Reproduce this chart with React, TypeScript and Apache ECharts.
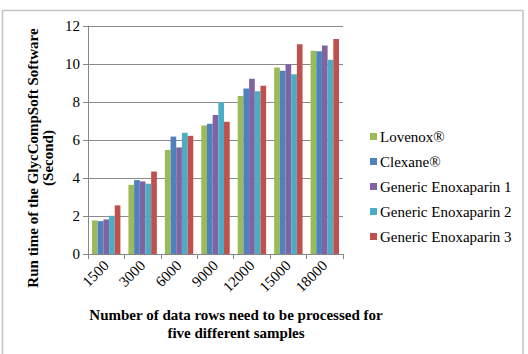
import React, { useEffect, useRef } from "react";
import * as echarts from "echarts";

const categories = ["1500", "3000", "6000", "9000", "12000", "15000", "18000"];
const seriesNames = [
  "Lovenox®",
  "Clexane®",
  "Generic Enoxaparin 1",
  "Generic Enoxaparin 2",
  "Generic Enoxaparin 3",
];
const lovenox = [1.77, 3.64, 5.48, 6.76, 8.32, 9.81, 10.7];
const clexane = [1.73, 3.89, 6.18, 6.85, 8.71, 9.64, 10.67];
const generic1 = [1.82, 3.82, 5.61, 7.32, 9.23, 9.99, 10.98];
const generic2 = [2.01, 3.7, 6.38, 7.99, 8.57, 9.46, 10.23];
const generic3 = [2.56, 4.34, 6.22, 6.96, 8.85, 11.04, 11.32];
const colors = ["#9BBB59", "#4F81BD", "#8064A2", "#4BACC6", "#C0504D"];

const FONT = "Liberation Serif";

export default function App() {
  const ref = useRef<HTMLDivElement>(null);

  useEffect(() => {
    if (!ref.current) return;
    const chart = echarts.init(ref.current, undefined, { renderer: "svg" });
    const values = [lovenox, clexane, generic1, generic2, generic3];
    chart.setOption({
      animation: false,
      backgroundColor: "#ffffff",
      textStyle: { fontFamily: FONT },
      graphic: [
        {
          type: "rect",
          shape: { x: 2.5, y: 10.5, width: 520.5, height: 350 },
          style: { fill: "none", stroke: "#c4c4c4", lineWidth: 1.5 },
          silent: true,
        },
        {
          type: "text",
          x: 40,
          y: 158,
          rotation: Math.PI / 2,
          style: {
            text: "Run time of the GlycCompSoft Software\n(Second)",
            fontFamily: FONT,
            fontWeight: "bold",
            fontSize: 15,
            lineHeight: 15,
            fill: "#000",
            align: "center",
            verticalAlign: "middle",
          },
        },
        {
          type: "text",
          x: 236,
          y: 324,
          style: {
            text: "Number of data rows need to be processed for\nfive different samples",
            fontFamily: FONT,
            fontWeight: "bold",
            fontSize: 15,
            lineHeight: 18,
            fill: "#000",
            align: "center",
            verticalAlign: "middle",
          },
        },
      ],
      legend: {
        orient: "vertical",
        left: 365,
        top: 124,
        itemWidth: 7,
        itemHeight: 7,
        itemGap: 10,
        icon: "rect",
        textStyle: { fontFamily: FONT, fontSize: 15, color: "#000", padding: [0, 0, 0, -2] },
        data: seriesNames,
      },
      grid: { left: 88, right: 185, top: 26, bottom: 100 },
      xAxis: {
        type: "category",
        data: categories,
        axisLine: { lineStyle: { color: "#888", width: 1 } },
        axisTick: { show: true, length: 5, lineStyle: { color: "#888" } },
        axisLabel: {
          rotate: 45,
          fontFamily: FONT,
          fontSize: 15,
          color: "#000",
          margin: 9,
        },
      },
      yAxis: {
        type: "value",
        min: 0,
        max: 12,
        interval: 2,
        axisLine: { show: true, lineStyle: { color: "#888", width: 1 } },
        axisTick: { show: true, length: 5, lineStyle: { color: "#888" } },
        splitLine: { lineStyle: { color: "#8a8a8a", width: 1 } },
        axisLabel: { fontFamily: FONT, fontSize: 15, color: "#000", margin: 8 },
      },
      series: seriesNames.map((name, i) => ({
        name,
        type: "bar",
        data: values[i],
        itemStyle: { color: colors[i] },
        barGap: "0%",
        barCategoryGap: "22%",
      })),
    });
    return () => chart.dispose();
  }, []);

  return (
    <div
      ref={ref}
      style={{ position: "fixed", left: 0, top: 0, width: 528, height: 354 }}
    />
  );
}
